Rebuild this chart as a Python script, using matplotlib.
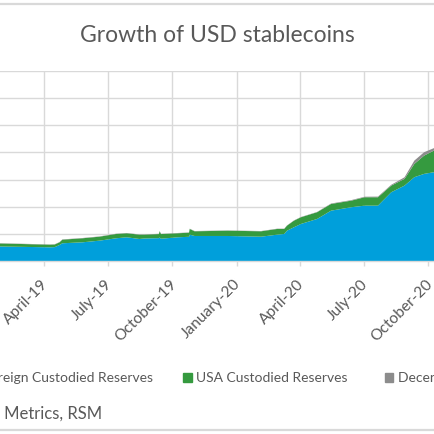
import numpy as np
import matplotlib
matplotlib.use('Agg')
import matplotlib.pyplot as plt
from matplotlib.lines import Line2D
from matplotlib.patches import Rectangle
from matplotlib.transforms import ScaledTranslation

plt.rcParams['font.family'] = ['Lato', 'DejaVu Sans']

# values in $ billions
dates = ['2019-01-01', '2019-01-28', '2019-04-09', '2019-04-16', '2019-04-23',
         '2019-04-27', '2019-05-26', '2019-06-19', '2019-07-13', '2019-07-28',
         '2019-08-15', '2019-08-22', '2019-09-12', '2019-09-13', '2019-09-15',
         '2019-10-09', '2019-10-25', '2019-10-26', '2019-11-02', '2019-12-19',
         '2020-02-05', '2020-02-28', '2020-03-09', '2020-03-13', '2020-03-23',
         '2020-04-02', '2020-04-25', '2020-05-15', '2020-06-13', '2020-07-02',
         '2020-07-21', '2020-08-09', '2020-08-28', '2020-09-11', '2020-09-25',
         '2020-10-09', '2020-10-12']
foreign = [2.70, 2.72, 2.57, 2.60, 3.00, 3.31, 3.49, 3.79, 4.23, 4.41,
           4.10, 4.19, 4.25, 4.37, 4.15, 4.41, 4.50, 4.89, 4.65, 4.65,
           4.52, 4.89, 5.02, 5.62, 6.25, 6.86, 7.77, 9.30, 9.93, 10.22,
           10.22, 12.68, 13.90, 15.44, 16.05, 16.36, 16.45]
usa = [0.55, 0.55, 0.48, 0.48, 0.49, 0.66, 0.74, 0.73, 0.79, 0.74,
       0.79, 0.70, 0.75, 1.14, 0.85, 0.74, 0.75, 1.05, 0.86, 0.97,
       0.99, 1.05, 0.92, 0.92, 1.21, 1.23, 1.24, 1.23, 1.21, 1.54,
       1.54, 1.22, 1.23, 2.44, 3.36, 3.97, 4.05]
decentralized = [0.05, 0.05, 0.05, 0.05, 0.05, 0.05, 0.05, 0.05, 0.05, 0.05,
                 0.05, 0.05, 0.05, 0.05, 0.05, 0.05, 0.05, 0.05, 0.05, 0.05,
                 0.05, 0.05, 0.05, 0.05, 0.05, 0.05, 0.05, 0.08, 0.10, 0.10,
                 0.12, 0.15, 0.30, 0.61, 0.62, 0.45, 0.45]

tick_dates = ['2019-01-01', '2019-04-01', '2019-07-01', '2019-10-01',
              '2020-01-01', '2020-04-01', '2020-07-01', '2020-10-01', '2021-01-01']
tick_labels = ['January-19', 'April-19', 'July-19', 'October-19', 'January-20',
               'April-20', 'July-20', 'October-20', 'January-21']

series_names = ['Foreign Custodied Reserves', 'USA Custodied Reserves',
                'Decentralized Reserves']
colors = ['#009fdb', '#359a3f', '#8c8c8c']

x = np.array(dates, dtype='datetime64[D]')
xt = np.array(tick_dates, dtype='datetime64[D]')

fig = plt.figure(figsize=(4.35, 4.35), dpi=100)
W = H = 435.0

# plot area: Jan-19 .. Jan-21, wider than the visible crop
ax = fig.add_axes([-18.8 / W, 172.7 / H, 511.5 / W, 190.6 / H])
ax.stackplot(x, foreign, usa, decentralized, colors=colors, linewidth=0, zorder=2)

ax.set_xlim(xt[0], xt[-1])
ax.set_ylim(0, 35)
ax.set_yticks(np.arange(0, 36, 5))
ax.set_xticks(xt)
ax.set_xticklabels(tick_labels, rotation=45, ha='right', rotation_mode='anchor')
ax.grid(True, color='#d9d9d9', linewidth=1.0, zorder=0)
ax.set_axisbelow(True)
for s in ['top', 'left', 'right']:
    ax.spines[s].set_visible(False)
ax.spines['bottom'].set_color('#d9d9d9')
ax.spines['bottom'].set_linewidth(1.0)
ax.tick_params(axis='x', length=3.5, width=1, color='#d9d9d9', pad=7.0,
               labelsize=11.2, labelcolor='#595959')
ax.tick_params(axis='y', length=0, labelsize=11.2, labelcolor='#595959')
# nudge rotated labels left so their ends sit at the ticks
shift = ScaledTranslation(-3 / 100, 0, fig.dpi_scale_trans)
for lab in ax.get_xticklabels():
    lab.set_transform(lab.get_transform() + shift)

fig.text(0.5, 1 - 35 / H, 'Growth of USD stablecoins', ha='center', va='center',
         fontsize=16.5, color='#595959')

# legend
leg_y = 1 - 378.5 / H
sq = 8.4
fs_leg = 10.0
fig.text(153.3 / W, leg_y, series_names[0], ha='right', va='center',
         fontsize=fs_leg, color='#595959')
fig.patches.append(Rectangle((-40 / W, leg_y - sq / 2 / H), sq / W, sq / H,
                             transform=fig.transFigure, color=colors[0]))
fig.patches.append(Rectangle((183.3 / W, leg_y - sq / 2 / H), sq / W, sq / H,
                             transform=fig.transFigure, color=colors[1]))
fig.text(196 / W, leg_y, series_names[1], ha='left', va='center',
         fontsize=fs_leg, color='#595959')
fig.patches.append(Rectangle((385 / W, leg_y - sq / 2 / H), sq / W, sq / H,
                             transform=fig.transFigure, color=colors[2]))
fig.text(398.3 / W, leg_y, series_names[2], ha='left', va='center',
         fontsize=fs_leg, color='#595959')

fig.text(102 / W, 1 - 414 / H, 'Source: Coin Metrics, RSM', ha='right', va='center',
         fontsize=12.0, color='#595959')

# chart area border
for yy in [5, 431]:
    fig.add_artist(Line2D([0, 1], [1 - yy / H, 1 - yy / H], transform=fig.transFigure,
                          color='#d9d9d9', linewidth=1.6))

fig.savefig('out.png', dpi=100)
